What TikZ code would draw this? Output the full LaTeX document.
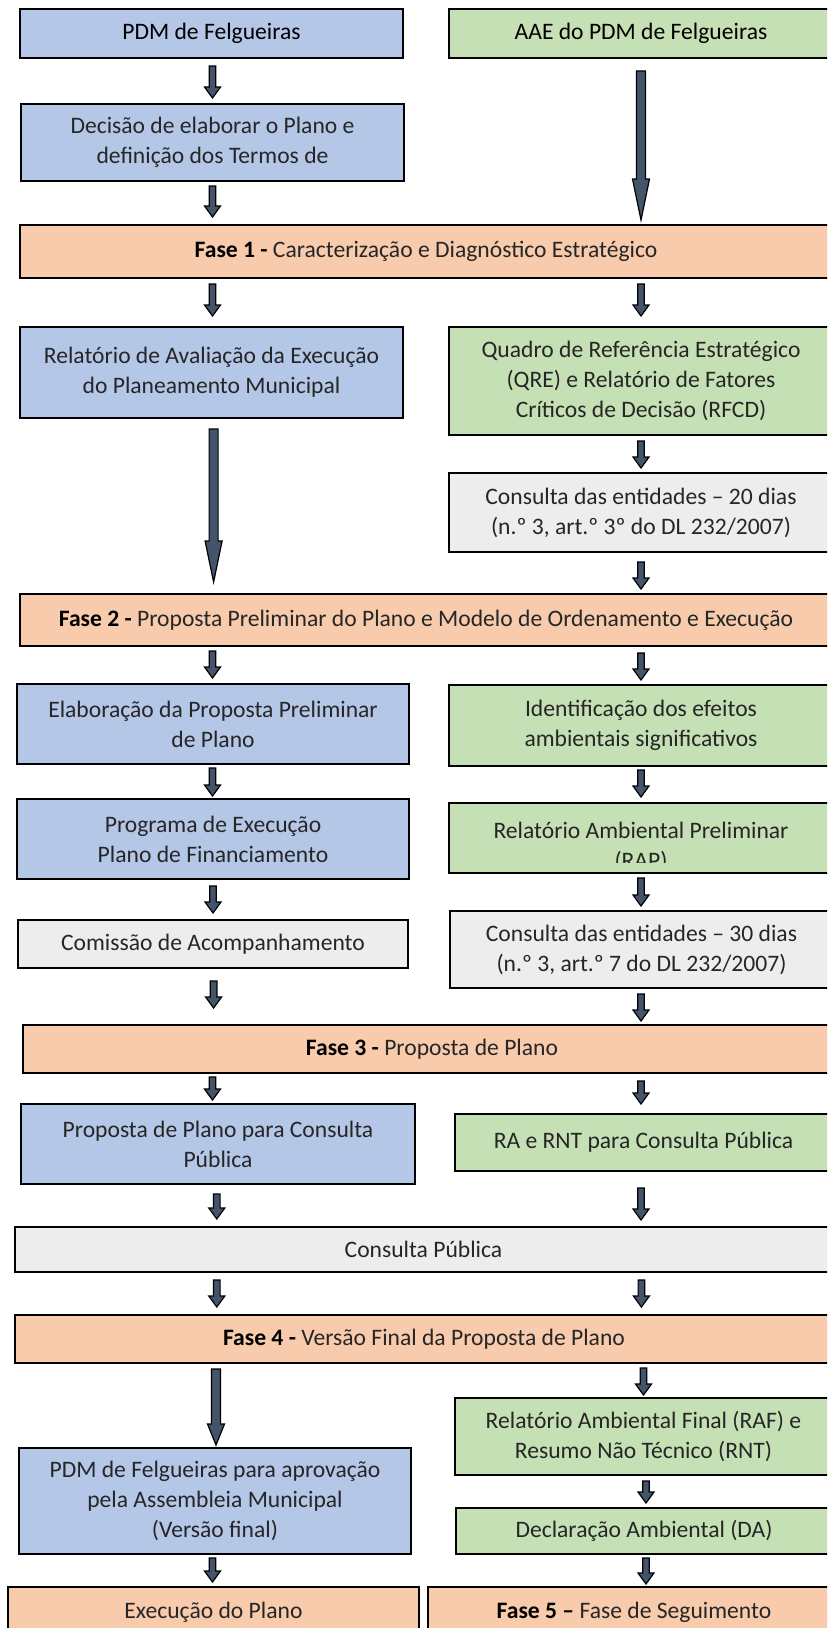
\documentclass[tikz,border=0pt]{standalone}
\usepackage{fontspec}
\setmainfont{Carlito}
\usetikzlibrary{calc}
\definecolor{bblue}{HTML}{B4C7E7}
\definecolor{bgreen}{HTML}{C5E0B4}
\definecolor{borange}{HTML}{F8CBAD}
\definecolor{bgrey}{HTML}{EDEDED}
\definecolor{arrfill}{HTML}{44546A}
\definecolor{txt}{HTML}{262626}
\tikzset{
  box/.style={draw=black, line width=1pt, inner sep=0pt, align=center,
    font=\fontsize{11.8}{15}\selectfont, text=txt},
  rect/.style n args={4}{minimum width={(#3-#1)*0.5pt}, minimum height={(#4-#2)*0.5pt},
    at={({(#1+#3)/2},{(#2+#4)/2})}},
  bluebox/.style={box, fill=bblue},
  greenbox/.style={box, fill=bgreen},
  orangebox/.style={box, fill=borange},
  greybox/.style={box, fill=bgrey},
  plaintext/.style={inner sep=0pt, font=\fontsize{11.8}{15}\selectfont, text=txt},
  blockarr/.style={draw=black, line width=0.6pt, fill=arrfill, line join=miter},
}
% #1 x, #2 from, #3 to, #4 top gap, #5 bottom gap, #6 head length, #7 shaft half, #8 head half
\newcommand\blockarrow[8]{%
  \path (#1,0 |- #2.south) ++(0,#4) coordinate (bs);
  \path (#1,0 |- #3.north) ++(0,-#5) coordinate (be);
  \draw[blockarr] ($(bs)+(-#7,0)$) -- ($(be)+(-#7,-#6)$) -- ($(be)+(-#8,-#6)$) -- (be)
    -- ($(be)+(#8,-#6)$) -- ($(be)+(#7,-#6)$) -- ($(bs)+(#7,0)$) -- cycle;
}
\newcommand\sarrow[5]{\blockarrow{#1}{#2}{#3}{#4}{#5}{11}{3.3}{8}}
\newcommand\larrow[6]{\blockarrow{#1}{#2}{#3}{#4}{#5}{#6}{4.5}{8.5}}
\begin{document}
\begin{tikzpicture}[x=0.5pt,y=-0.5pt]
\fill[white] (0,0) rectangle (827,1628);
\useasboundingbox (0,0) rectangle (827,1628);
\clip (0,0) rectangle (827,1628);

% row 1
\node[bluebox, text=black, rect={20}{9}{403}{58}] (pdm) {PDM de Felgueiras};
\node[greenbox, text=black, rect={449}{9}{833}{58}] (aae) {AAE do PDM de Felgueiras};
\node[bluebox, rect={21}{104}{404}{181}] (dec) {Decisão de elaborar o Plano e\\definição dos Termos de};
\node[orangebox, rect={20}{225}{832}{278}] (f1) {\textbf{\color{black}Fase 1 -} Caracterização e Diagnóstico Estratégico};

\node[bluebox, rect={20}{327}{403}{418}] (rel) {Relatório de Avaliação da Execução\\do Planeamento Municipal};
\node[greenbox, rect={449}{327}{833}{435}] (qre) {Quadro de Referência Estratégico\\(QRE) e Relatório de Fatores\\Críticos de Decisão (RFCD)};
\node[greybox, rect={449}{473}{833}{552}] (c20) {Consulta das entidades – 20 dias\\(n.º 3, art.º 3º do DL 232/2007)};
\node[orangebox, rect={20}{594}{832}{646}] (f2) {\textbf{\color{black}Fase 2 -} Proposta Preliminar do Plano e Modelo de Ordenamento e Execução};

\node[bluebox, rect={17}{684}{409}{764}] (elab) {Elaboração da Proposta Preliminar\\de Plano};
\node[greenbox, rect={449}{685}{833}{766}] (ident) {Identificação dos efeitos\\ambientais significativos};
\node[bluebox, rect={17}{799}{409}{879}] (prog) {Programa de Execução\\Plano de Financiamento};
\node[greenbox, rect={449}{803}{833}{873}] (rap) {};
\begin{scope}
  \clip (449,803) rectangle (833,862);
  \node[plaintext, anchor=base] (rapa) at (641,838) {Relatório Ambiental Preliminar};
  \node[plaintext, anchor=base] (rapb) at (641,868) {(RAP)};
\end{scope}
\node[greybox, rect={18}{920}{408}{968}] (com) {Comissão de Acompanhamento};
\node[greybox, rect={450}{911}{833}{988}] (c30) {Consulta das entidades – 30 dias\\(n.º 3, art.º 7 do DL 232/2007)};
\node[orangebox, rect={23}{1025}{841}{1073}] (f3) {\textbf{\color{black}Fase 3 -} Proposta de Plano};

\node[bluebox, rect={21}{1104}{415}{1184}] (prop) {Proposta de Plano para Consulta\\Pública};
\node[greenbox, rect={455}{1114}{832}{1171}] (rnt) {RA e RNT para Consulta Pública};
\node[greybox, rect={15}{1227}{832}{1272}] (cp) {Consulta Pública};
\node[orangebox, rect={15}{1315}{833}{1363}] (f4) {\textbf{\color{black}Fase 4 -} Versão Final da Proposta de Plano};

\node[greenbox, rect={455}{1398}{832}{1475}] (raf) {Relatório Ambiental Final (RAF) e\\Resumo Não Técnico (RNT)};
\node[bluebox, rect={19}{1448}{411}{1554}] (final) {PDM de Felgueiras para aprovação\\pela Assembleia Municipal\\(Versão final)};
\node[greenbox, rect={456}{1508}{832}{1554}] (da) {Declaração Ambiental (DA)};
\node[orangebox, rect={8}{1587}{419}{1638}] (exe) {Execução do Plano};
\node[orangebox, rect={428}{1587}{840}{1638}] (f5) {\textbf{\color{black}Fase 5 –} Fase de Seguimento};

% arrows
\sarrow{212.5}{pdm}{dec}{7}{5}
\larrow{641}{aae}{f1}{12}{4}{41}
\sarrow{212.5}{dec}{f1}{4}{7}
\sarrow{212.5}{f1}{rel}{5}{10}
\sarrow{641}{f1}{qre}{5}{10}
\larrow{213.6}{rel}{f2}{10}{11}{41}
\sarrow{641}{qre}{c20}{5}{4}
\sarrow{641}{c20}{f2}{9}{4}
\sarrow{212.5}{f2}{elab}{4}{5}
\sarrow{641}{f2}{ident}{6}{4}
\sarrow{212.5}{elab}{prog}{3}{2}
\sarrow{641}{ident}{rap}{3}{5}
\sarrow{213}{prog}{com}{6}{6}
\sarrow{641}{rap}{c30}{4}{4}
\sarrow{213.6}{com}{f3}{12}{16}
\sarrow{641}{c30}{f3}{5}{3}
\sarrow{212.5}{f3}{prop}{3}{3}
\sarrow{641}{f3}{rnt}{7}{9}
\sarrow{216.8}{prop}{cp}{9}{7}
\sarrow{641}{rnt}{cp}{16}{6}
\sarrow{216.8}{cp}{f4}{7}{7}
\sarrow{641.4}{cp}{f4}{7}{7}
\larrow{216}{f4}{final}{5}{2}{21}
\sarrow{643.5}{f4}{raf}{4}{2}
\sarrow{646}{raf}{da}{5}{4}
\sarrow{212.5}{final}{exe}{3}{4}
\sarrow{646}{da}{f5}{3}{2}
\end{tikzpicture}
\end{document}
